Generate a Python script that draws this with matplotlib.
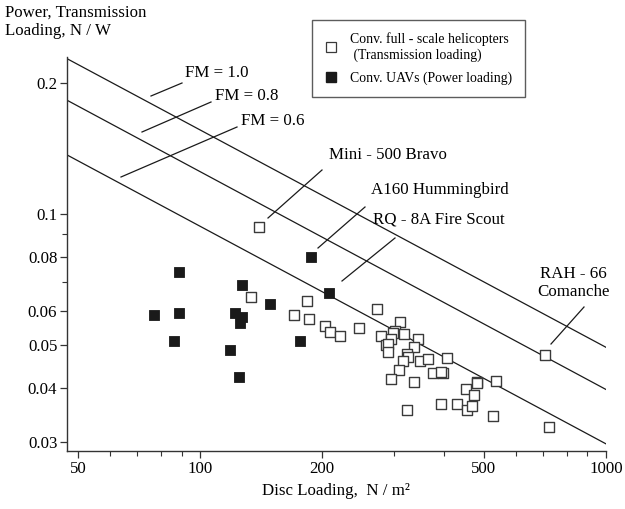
import matplotlib
matplotlib.use("Agg")
import matplotlib.pyplot as plt
from matplotlib.lines import Line2D

plt.rcParams['font.family'] = ['Liberation Serif', 'DejaVu Serif']

# Conventional full-scale helicopters (transmission loading)
heli_dl = [139.7, 133.5, 170.4, 183.5, 185.2, 202.8, 208.7, 220.9, 246.6, 273.3,
           310.7, 301.5, 299.2, 317.9, 278.4, 295.8, 344.1, 286.4, 290.2, 336.3,
           290.2, 324.0, 325.1, 316.8, 348.0, 364.2, 406.8, 309.6, 375.6, 397.6,
           393.0, 294.6, 337.2, 482.4, 480.0, 536.1, 451.4, 471.6, 322.7, 391.6,
           430.5, 453.3, 466.3, 528.2, 708.7, 722.5]
heli_tl = [0.0935, 0.0647, 0.0587, 0.0631, 0.0574, 0.0554, 0.0536, 0.0526, 0.0547, 0.0606,
           0.0565, 0.0540, 0.0533, 0.0531, 0.0526, 0.0517, 0.0517, 0.0502, 0.0505, 0.0495,
           0.0484, 0.0478, 0.0471, 0.0461, 0.0461, 0.0465, 0.0467, 0.0440, 0.0432, 0.0433,
           0.0435, 0.0418, 0.0411, 0.0411, 0.0410, 0.0415, 0.0397, 0.0385, 0.0355, 0.0366,
           0.0366, 0.0355, 0.0363, 0.0344, 0.0475, 0.0325]

# Conventional UAVs (power loading)
uav_dl = [77.2, 88.9, 88.9, 86.3, 118.2, 122.1, 127.1, 127.1, 125.6, 124.4,
          148.4, 176.7, 188.1, 208.0]
uav_pl = [0.0587, 0.0737, 0.0595, 0.0511, 0.0489, 0.0595, 0.0690, 0.0580, 0.0563, 0.0422,
          0.0623, 0.0512, 0.0797, 0.0659]

# Figure-of-merit lines (ideal loading), end points
fm_values = [1.0, 0.8, 0.6]
fm_dl_ends = [47.0, 1000.0]
fm_left = [0.228, 0.183, 0.137]
fm_right = [0.0495, 0.0396, 0.0297]

x_ticks = [50, 100, 200, 500, 1000]
x_ticklabels = ['50', '100', '200', '500', '1000']
y_ticks = [0.03, 0.04, 0.05, 0.06, 0.08, 0.1, 0.2]
y_ticklabels = ['0.03', '0.04', '0.05', '0.06', '0.08', '0.1', '0.2']

W, H = 625, 509
FS = 12.2
fig = plt.figure(figsize=(W / 100, H / 100), dpi=100)
ax = fig.add_axes([67 / W, 1 - 451 / H, (606 - 67) / W, (451 - 57) / H])
ax.set_xscale('log')
ax.set_yscale('log')
ax.set_xlim(47.0, 1000)
ax.set_ylim(0.0286, 0.230)

for lo, hi in zip(fm_left, fm_right):
    ax.plot(fm_dl_ends, [lo, hi], color='#1a1a1a', lw=0.9, zorder=2)

ax.scatter(heli_dl, heli_tl, marker='s', s=52, facecolors='white',
           edgecolors='#3a3a3a', linewidths=1.0, zorder=3)
ax.scatter(uav_dl, uav_pl, marker='s', s=52, facecolors='#1a1a1a',
           edgecolors='#1a1a1a', linewidths=0.6, zorder=4)

for s in ['top', 'right']:
    ax.spines[s].set_visible(False)
for s in ['left', 'bottom']:
    ax.spines[s].set_color('#333333')
    ax.spines[s].set_linewidth(1.0)

ax.set_xticks(x_ticks)
ax.set_xticklabels(x_ticklabels)
ax.set_xticks([60, 70, 80, 90, 300, 400, 600, 700, 800, 900], minor=True)
ax.set_yticks(y_ticks)
ax.set_yticklabels(y_ticklabels)
ax.set_yticks([0.07, 0.09], minor=True)
ax.xaxis.set_minor_formatter(matplotlib.ticker.NullFormatter())
ax.yaxis.set_minor_formatter(matplotlib.ticker.NullFormatter())
ax.tick_params(which='major', direction='out', length=5, width=0.9,
               color='#333333', labelsize=FS, pad=2)
ax.tick_params(which='minor', direction='out', length=3.5, width=0.8, color='#333333')


def fp(px, py):
    return (px / W, 1 - py / H)


def leader(p0, p1):
    ax.add_line(Line2D([p0[0] / W, p1[0] / W], [1 - p0[1] / H, 1 - p1[1] / H],
                       transform=fig.transFigure, color='#1a1a1a', lw=0.9))


# FM labels
fig.text(*fp(185, 73), 'FM = 1.0', fontsize=FS, ha='left', va='center')
leader((151, 96), (182, 83))
fig.text(*fp(215, 96), 'FM = 0.8', fontsize=FS, ha='left', va='center')
leader((142, 132), (211, 102))
fig.text(*fp(241, 121), 'FM = 0.6', fontsize=FS, ha='left', va='center')
leader((121, 177), (237, 127))

# Aircraft labels
fig.text(*fp(329, 155), 'Mini - 500 Bravo', fontsize=FS, ha='left', va='center')
leader((268, 218), (322, 170))
fig.text(*fp(371, 190), 'A160 Hummingbird', fontsize=FS, ha='left', va='center')
leader((318, 248), (365, 207))
fig.text(*fp(373, 219), 'RQ - 8A Fire Scout', fontsize=FS, ha='left', va='center')
leader((342, 281), (395, 238))
fig.text(*fp(573, 283), 'RAH - 66\nComanche', fontsize=FS, ha='center', va='center',
         linespacing=1.1)
leader((551, 344), (584, 307))

# Axis labels
fig.text(*fp(5, 5), 'Power, Transmission\nLoading, N / W', fontsize=FS,
         ha='left', va='top', linespacing=1.15)
fig.text(*fp(336, 491), 'Disc Loading,  N / m²', fontsize=FS, ha='center', va='center')

# Legend
h1 = Line2D([], [], marker='s', ls='none', markersize=7, markerfacecolor='white',
            markeredgecolor='#3a3a3a', markeredgewidth=0.9)
h2 = Line2D([], [], marker='s', ls='none', markersize=7, markerfacecolor='#1a1a1a',
            markeredgecolor='#1a1a1a')
leg = fig.legend([h1, h2], ['Conv. full - scale helicopters\n (Transmission loading)',
                            'Conv. UAVs (Power loading)'],
                 loc='upper left', bbox_to_anchor=fp(312, 20), borderaxespad=0,
                 fontsize=9.9, frameon=True, fancybox=False, edgecolor='#333333',
                 borderpad=0.9, handlelength=1.0, handletextpad=0.9, labelspacing=0.7)
leg.get_frame().set_linewidth(1.0)

fig.savefig('out.png', dpi=100, facecolor='white')
